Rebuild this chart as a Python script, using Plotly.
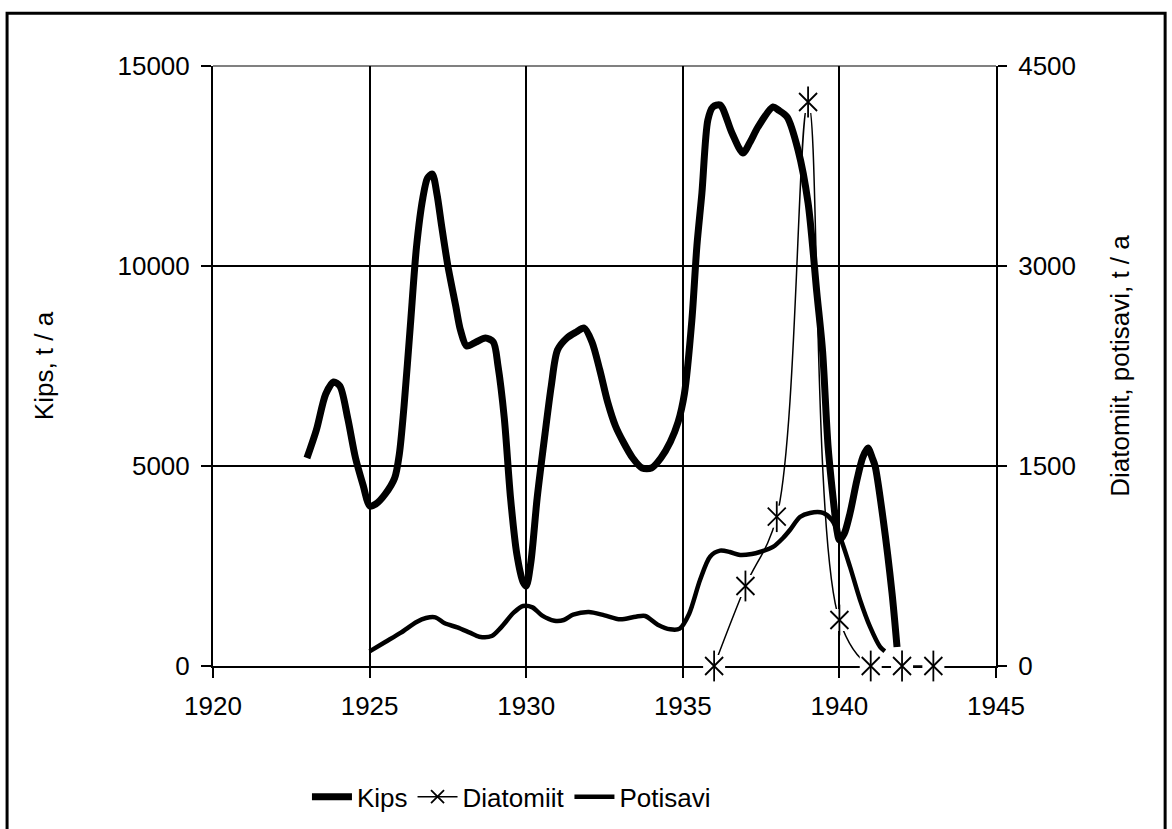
import plotly.graph_objects as go

# Kips production, t / a (left axis)
kips_year = [1923.0, 1923.3, 1923.6, 1923.85, 1924.05, 1924.3, 1924.55, 1924.8, 1925.0, 1925.2,
             1925.5, 1925.8, 1925.95, 1926.1, 1926.3, 1926.5, 1926.7, 1926.85, 1927.0, 1927.15,
             1927.3, 1927.5, 1927.75, 1927.9, 1928.1, 1928.4, 1928.7, 1928.95, 1929.1, 1929.3,
             1929.5, 1929.7, 1929.9, 1930.0, 1930.15, 1930.35, 1930.6, 1930.8, 1931.0, 1931.3,
             1931.6, 1931.85, 1932.1, 1932.35, 1932.6, 1932.85, 1933.1, 1933.4, 1933.7, 1934.0,
             1934.3, 1934.6, 1934.85, 1935.05, 1935.29, 1935.45, 1935.61, 1935.8, 1935.96, 1936.19,
             1936.57, 1936.92, 1937.15, 1937.4, 1937.88, 1938.05, 1938.33, 1938.68, 1939.0, 1939.28,
             1939.46, 1939.64, 1939.83, 1939.92, 1940.0, 1940.15, 1940.34, 1940.56, 1940.75, 1940.91,
             1941.05, 1941.14, 1941.4, 1941.68, 1941.84]
kips_val = [5200, 5900, 6800, 7100, 7000, 6200, 5200, 4500, 4000, 4050,
            4300, 4700, 5300, 6500, 8500, 10500, 11700, 12200, 12300, 11800,
            11000, 10000, 9000, 8400, 8000, 8100, 8200, 8100, 7500, 6200,
            4200, 2800, 2100, 2000, 2600, 4200, 5800, 7000, 7900, 8200,
            8350, 8450, 8100, 7400, 6600, 6000, 5600, 5200, 4950, 4950,
            5200, 5600, 6100, 6800, 8650, 10500, 11825, 13650, 13975, 14025,
            13325, 12825, 13100, 13475, 13975, 13900, 13725, 12900, 11575, 9325,
            7900, 5475, 3975, 3400, 3150, 3300, 3825, 4650, 5225, 5450,
            5200, 5000, 3650, 1825, 475]

# Diatomiit production, t / a (right axis)
diat_year = [1936, 1937, 1938, 1939, 1940, 1941, 1942, 1943]
diat_val = [0, 600, 1120, 4230, 345, 0, 0, 0]

# Potisavi production, t / a (right axis)
poti_year = [1925.0, 1925.5, 1926.0, 1926.5, 1926.8, 1927.1, 1927.4, 1927.8, 1928.2, 1928.5,
             1928.9, 1929.2, 1929.6, 1929.9, 1930.2, 1930.5, 1930.9, 1931.2, 1931.5, 1932.0,
             1932.5, 1933.0, 1933.5, 1933.8, 1934.2, 1934.6, 1934.9, 1935.2, 1935.55, 1935.87,
             1936.19, 1936.5, 1936.83, 1937.2, 1937.46, 1937.88, 1938.2, 1938.42, 1938.74, 1939.06,
             1939.48, 1939.76, 1940.02, 1940.34, 1940.66, 1940.98, 1941.3, 1941.45]
poti_val = [110, 180, 250, 330, 360, 365, 320, 290, 250, 220,
            225, 290, 400, 450, 440, 380, 340, 345, 385, 405,
            380, 350, 370, 375, 310, 275, 280, 390, 645, 820,
            865, 855, 833, 840, 855, 893, 960, 1020, 1118, 1148,
            1148, 1095, 968, 743, 495, 293, 143, 110]

# axis tick labels
kips_ticks = [0, 5000, 10000, 15000]
side_ticks = [0, 1500, 3000, 4500]
year_ticks = [1920, 1925, 1930, 1935, 1940, 1945]

FONT = "Liberation Sans, Arial, sans-serif"
FS = 26

fig = go.Figure()

fig.add_trace(go.Scatter(
    x=kips_year, y=kips_val, name="Kips", mode="lines",
    line=dict(color="black", width=7, shape="spline", smoothing=0.8),
    legendrank=1,
))
fig.add_trace(go.Scatter(
    x=poti_year, y=poti_val, name="Potisavi", mode="lines", yaxis="y2",
    line=dict(color="black", width=4.5, shape="spline", smoothing=0.8),
    legendrank=3,
))
# Diatomiit smoothed line
fig.add_trace(go.Scatter(
    x=diat_year, y=diat_val, mode="lines", yaxis="y2", showlegend=False,
    line=dict(color="black", width=1.5, shape="spline", smoothing=1.0),
    hoverinfo="skip",
))
# white backing behind the star markers
fig.add_trace(go.Scatter(
    x=diat_year, y=diat_val, mode="markers", yaxis="y2", showlegend=False,
    marker=dict(symbol="square", size=22, color="white", line=dict(width=0)),
    cliponaxis=False, hoverinfo="skip",
))
fig.add_trace(go.Scatter(
    x=diat_year, y=diat_val, mode="markers", yaxis="y2", showlegend=False,
    marker=dict(symbol="x-thin-open", size=18, color="black",
                line=dict(width=1.8, color="black")),
    cliponaxis=False,
))
fig.add_trace(go.Scatter(
    x=diat_year, y=diat_val, mode="markers", yaxis="y2", showlegend=False,
    marker=dict(symbol="line-ns-open", size=22, color="black",
                line=dict(width=1.8, color="black")),
    cliponaxis=False, hoverinfo="skip",
))
# legend entry for Diatomiit
fig.add_trace(go.Scatter(
    x=[None], y=[None], name="Diatomiit", mode="lines+markers", yaxis="y2",
    line=dict(color="black", width=1.5),
    marker=dict(symbol="x-thin-open", size=13, color="black",
                line=dict(width=1.8, color="black")),
    legendrank=2,
))

fig.update_layout(
    width=1172, height=829,
    margin=dict(l=213, r=176, t=66, b=163, autoexpand=False),
    paper_bgcolor="white", plot_bgcolor="white",
    font=dict(family=FONT, size=FS, color="black"),
    showlegend=True,
    legend=dict(orientation="h", x=0.12, xanchor="left", y=-0.218, yanchor="middle",
                font=dict(family=FONT, size=FS), itemwidth=40,
                bgcolor="rgba(0,0,0,0)", traceorder="normal"),
    xaxis=dict(
        range=[1920, 1945], tickvals=year_ticks, ticktext=[str(v) for v in year_ticks],
        showgrid=True, gridcolor="black", gridwidth=1.5,
        showline=True, linecolor="black", linewidth=2,
        ticks="outside", ticklen=10, tickwidth=2, tickcolor="black",
        zeroline=False, layer="below traces", ticklabelstandoff=6, automargin=False,
        tickfont=dict(family=FONT, size=FS),
    ),
    yaxis=dict(
        range=[0, 15000], tickvals=kips_ticks, ticktext=[str(v) for v in kips_ticks],
        showgrid=True, gridcolor="black", gridwidth=1.5,
        showline=True, linecolor="black", linewidth=2,
        ticks="outside", ticklen=10, tickwidth=2, tickcolor="black",
        zeroline=False, layer="below traces", ticklabelstandoff=6, automargin=False,
        title=dict(text="Kips, t / a", font=dict(family=FONT, size=FS), standoff=56),
        tickfont=dict(family=FONT, size=FS),
    ),
    yaxis2=dict(
        range=[0, 4500], tickvals=side_ticks, ticktext=[str(v) for v in side_ticks],
        overlaying="y", side="right", showgrid=False,
        showline=True, linecolor="black", linewidth=2,
        ticks="outside", ticklen=9, tickwidth=2, tickcolor="black",
        zeroline=False, layer="below traces", ticklabelstandoff=6, automargin=False,
        title=dict(text="Diatomiit, potisavi, t / a", font=dict(family=FONT, size=FS), standoff=36),
        tickfont=dict(family=FONT, size=FS),
    ),
    shapes=[
        # top edge of the plot area
        dict(type="line", xref="paper", yref="paper", x0=0, x1=1, y0=1, y1=1,
             line=dict(color="#808080", width=2), layer="below"),
        # chart frame
        dict(type="rect", xref="paper", yref="paper",
             x0=-0.263, x1=1.216, y0=-0.29, y1=1.088,
             line=dict(color="black", width=3), fillcolor="rgba(0,0,0,0)", layer="above"),
    ],
)

fig.write_html("out.html")
